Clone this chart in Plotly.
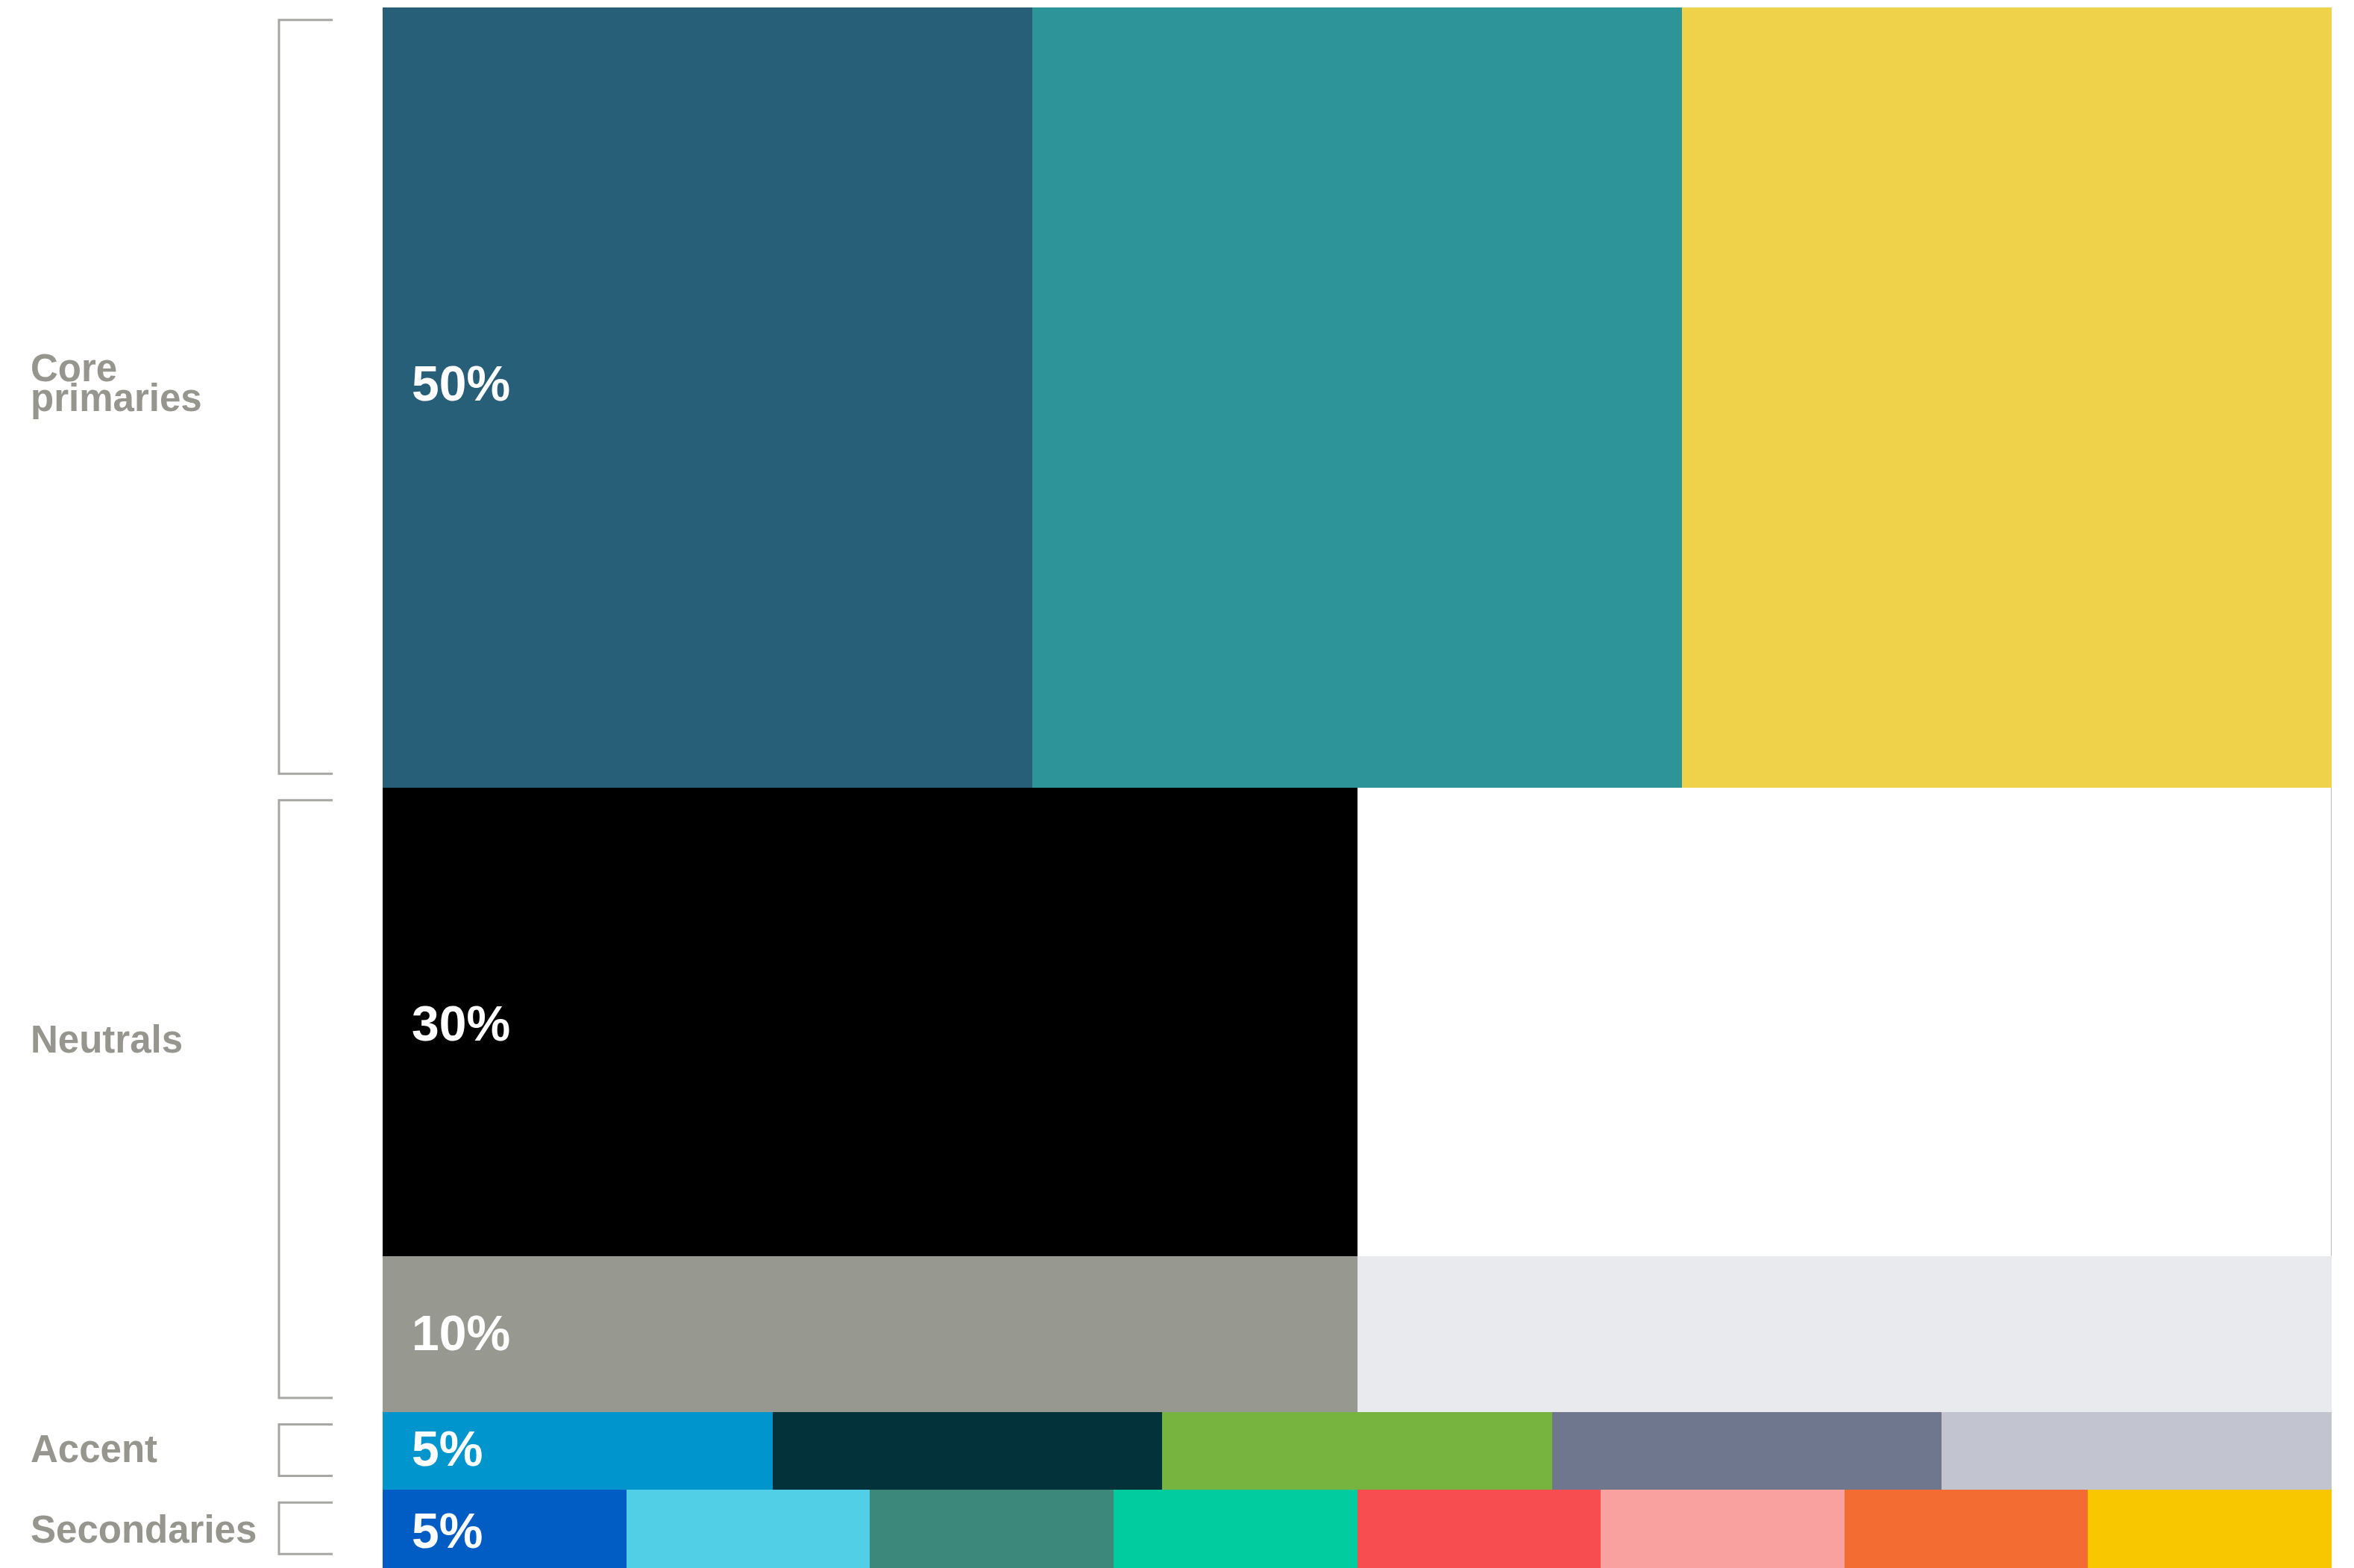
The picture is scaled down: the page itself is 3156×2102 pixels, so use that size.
import plotly.graph_objects as go

# ---- data ----
row_group = ["Core primaries", "Neutrals", "Neutrals", "Accent", "Secondaries"]
row_share = [50, 30, 10, 5, 5]
row_label = ["50%", "30%", "10%", "5%", "5%"]
core_colors = ["#275E78", "#2D9599", "#EFD14A"]
neutral_colors = ["#000000", "#FFFFFF"]
neutral_light_colors = ["#979890", "#E9EAEE"]
accent_colors = ["#0096CD", "#03323A", "#77B43F", "#6E778E", "#C2C5CF"]
secondary_colors = ["#015CC4", "#50CFE6", "#3C897B", "#00CC9F",
                    "#F74D51", "#F9A19F", "#F36D33", "#F8C700"]
row_colors = [core_colors, neutral_colors, neutral_light_colors,
              accent_colors, secondary_colors]
groups = ["Core primaries", "Neutrals", "Accent", "Secondaries"]

# ---- style ----
W, H = 3156, 2102
ML, MR, MT, MB = 513, 30, 10, 0
PW = W - ML - MR
FONT = "Liberation Sans"
LABEL_GRAY = "#96968F"
BRACKET_GRAY = "#A6A6A2"
label_yshift = {"Core primaries": 20, "Neutrals": -24, "Accent": 3, "Secondaries": -1}
pct_yshift = [19, -2, 1, 3, -2]
LINE_GAP = 40
XV = -139 / PW   # bracket spine (paper)
XT = -67 / PW    # bracket tick end (paper)

fig = go.Figure()
annotations = []
shapes = []

starts = []
s = 0
for share in row_share:
    starts.append(s)
    s += share

for i, (share, colors) in enumerate(zip(row_share, row_colors)):
    n = len(colors)
    start = starts[i]
    fig.add_trace(go.Bar(
        x=[(j + 0.5) / n for j in range(n)],
        y=[share] * n,
        base=[start] * n,
        width=[1.0 / n] * n,
        marker=dict(color=colors, line=dict(width=0)),
        orientation="v",
        showlegend=False,
        hoverinfo="skip",
    ))
    annotations.append(dict(
        x=0, y=start + share / 2, xref="x", yref="y",
        text="<b>" + row_label[i] + "</b>", showarrow=False,
        xanchor="left", yanchor="middle", xshift=37, yshift=pct_yshift[i],
        font=dict(family=FONT, size=66, color="white"),
    ))

# white cell right border
wi = 1
shapes.append(dict(type="line", xref="x", yref="y", x0=1, x1=1,
                   y0=starts[wi], y1=starts[wi] + row_share[wi],
                   line=dict(color="#B8B8B8", width=2)))

# group brackets and labels
for g in groups:
    idx = [k for k, rg in enumerate(row_group) if rg == g]
    g0 = starts[idx[0]]
    g1 = starts[idx[-1]] + row_share[idx[-1]]
    top = g0 + 0.8
    bot = g1 - 0.9
    shapes.append(dict(
        type="path", xref="paper", yref="y",
        path=f"M {XT},{top} L {XV},{top} L {XV},{bot} L {XT},{bot}",
        line=dict(color=BRACKET_GRAY, width=3),
    ))
    first = idx[0]
    yc = starts[first] + row_share[first] / 2
    lines = g.split(" ")
    nl = len(lines)
    for k, ln in enumerate(lines):
        annotations.append(dict(
            x=0, y=yc, xref="x", yref="y",
            text="<b>" + ln + "</b>", showarrow=False,
            xanchor="left", yanchor="middle",
            xshift=-474, yshift=label_yshift[g] - (k - (nl - 1) / 2) * LINE_GAP,
            font=dict(family=FONT, size=51, color=LABEL_GRAY),
        ))

fig.update_layout(
    width=W, height=H,
    margin=dict(l=ML, r=MR, t=MT, b=MB, pad=0),
    paper_bgcolor="white", plot_bgcolor="white",
    barmode="overlay", bargap=0,
    xaxis=dict(range=[0, 1], visible=False, fixedrange=True),
    yaxis=dict(range=[100, 0], visible=False, fixedrange=True),
    annotations=annotations, shapes=shapes,
)

fig.write_html("out.html")
